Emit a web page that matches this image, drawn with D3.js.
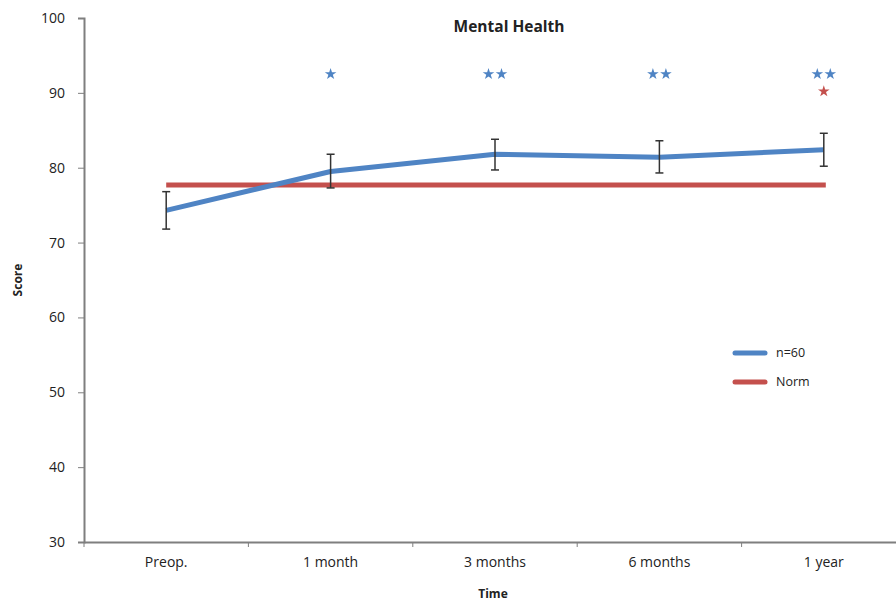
<!DOCTYPE html>
<html><head><meta charset="utf-8">
<script src="https://cdn.jsdelivr.net/npm/d3@7"></script>
<style>body{margin:0;background:#fff}svg{display:block}text{font-family:"Open Sans",sans-serif;fill:#222}</style>
</head><body><svg id="c" width="896" height="601"></svg>
<script>
const categories = ["Preop.", "1 month", "3 months", "6 months", "1 year"];
const meanValues = [74.3, 79.5, 81.8, 81.4, 82.4];
const errLow = [71.8, 77.3, 79.7, 79.3, 80.2];
const errHigh = [76.8, 81.8, 83.8, 83.6, 84.6];
const normValue = 77.7;
const blueStars = [0, 1, 2, 2, 2];
const redStars = [0, 0, 0, 0, 1];
const blueStarLevel = 92.5;
const redStarLevel = 90.2;
const yTicks = [30, 40, 50, 60, 70, 80, 90, 100];
const seriesNames = ["n=60", "Norm"];

const blue = "#4f84c4", red = "#c4504d";
const svg = d3.select("#c");
const m = {left: 84, top: 18, right: -10, bottom: 59};
const W = 896, H = 601;
const x = d3.scaleBand().domain(categories).range([m.left, W - m.right]).padding(0);
const y = d3.scaleLinear().domain([30, 100]).range([H - m.bottom, m.top]);
const cx = d => x(d) + x.bandwidth() / 2;

// y axis
const ya = svg.append("g").attr("transform", `translate(${m.left},0)`)
  .call(d3.axisLeft(y).tickValues(yTicks).tickSize(6).tickPadding(13));
ya.select(".domain").attr("stroke", "#7f7f7f").attr("stroke-width", 2);
ya.selectAll(".tick line").attr("stroke", "#7f7f7f").attr("stroke-width", 1);
ya.selectAll(".tick text").style("font-size", "14px").attr("fill", "#222");

// x axis
const xa = svg.append("g").attr("transform", `translate(0,${y(30)})`)
  .call(d3.axisBottom(x).tickSize(0).tickPadding(15));
xa.select(".domain").attr("stroke", "#7f7f7f").attr("stroke-width", 2);
xa.selectAll(".tick text").style("font-size", "14px").attr("fill", "#222");
xa.selectAll(".bt").data(categories).enter().append("line")
  .attr("x1", d => x(d)).attr("x2", d => x(d)).attr("y1", 0).attr("y2", 5)
  .attr("stroke", "#7f7f7f").attr("stroke-width", 1);

// norm line
svg.append("line").attr("x1", cx(categories[0])).attr("x2", cx(categories[4]) + 2)
  .attr("y1", y(normValue)).attr("y2", y(normValue))
  .attr("stroke", red).attr("stroke-width", 5);

// mean line
const line = d3.line().x((d, i) => cx(categories[i])).y(d => y(d));
svg.append("path").datum(meanValues).attr("d", line).attr("fill", "none")
  .attr("stroke", blue).attr("stroke-width", 5).attr("stroke-linejoin", "round");

// error bars
const eb = svg.append("g").attr("stroke", "#333").attr("stroke-width", 1.5);
categories.forEach((c, i) => {
  eb.append("line").attr("x1", cx(c)).attr("x2", cx(c)).attr("y1", y(errLow[i])).attr("y2", y(errHigh[i]));
  [errLow[i], errHigh[i]].forEach(v => eb.append("line").attr("x1", cx(c) - 4).attr("x2", cx(c) + 4)
    .attr("y1", y(v)).attr("y2", y(v)));
});

// stars
const star = d3.symbol().type(d3.symbolStar).size(42);
categories.forEach((c, i) => {
  const n = blueStars[i];
  for (let k = 0; k < n; k++) {
    const off = (k - (n - 1) / 2) * 13;
    svg.append("path").attr("d", star).attr("fill", blue)
      .attr("transform", `translate(${cx(c) + off},${y(blueStarLevel)})`);
  }
  for (let k = 0; k < redStars[i]; k++) {
    svg.append("path").attr("d", star).attr("fill", red)
      .attr("transform", `translate(${cx(c)},${y(redStarLevel)})`);
  }
});

// title & labels
svg.append("text").attr("x", 509).attr("y", 32).attr("text-anchor", "middle")
  .style("font-size", "15.5px").style("font-weight", "bold").text("Mental Health");
svg.append("text").attr("transform", `translate(22,${(y(30) + y(100)) / 2}) rotate(-90)`)
  .attr("text-anchor", "middle").style("font-size", "12px").style("font-weight", "bold").text("Score");
svg.append("text").attr("x", 493).attr("y", 598).attr("text-anchor", "middle")
  .style("font-size", "12px").style("font-weight", "bold").text("Time");

// legend
const lg = svg.append("g");
[blue, red].forEach((col, i) => {
  const yy = 353 + i * 29;
  lg.append("line").attr("x1", 735).attr("x2", 765).attr("y1", yy).attr("y2", yy)
    .attr("stroke", col).attr("stroke-width", 5).attr("stroke-linecap", "round");
  lg.append("text").attr("x", 776).attr("y", yy + 4).style("font-size", "12.5px").text(seriesNames[i]);
});
</script></body></html>
